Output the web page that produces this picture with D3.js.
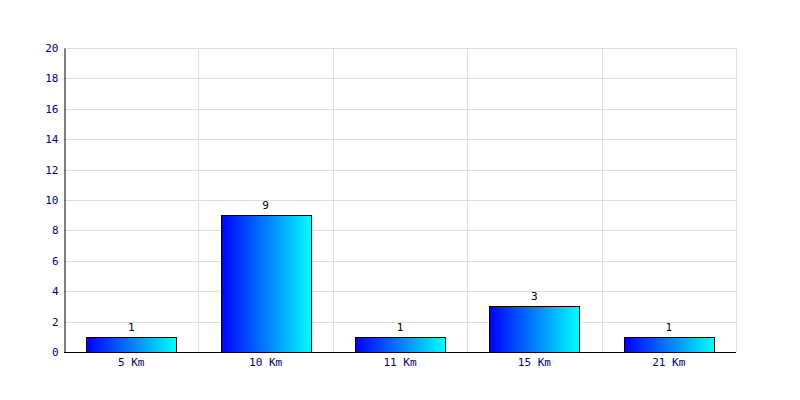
<!DOCTYPE html>
<html><head><meta charset="utf-8">
<script src="https://cdn.jsdelivr.net/npm/d3@7"></script>
<style>body{margin:0;background:#fff}svg{display:block}</style>
</head><body>
<script>
const categories = ["5 Km","10 Km","11 Km","15 Km","21 Km"];
const values = [1,9,1,3,1];
const yTicks = [0,2,4,6,8,10,12,14,16,18,20];

const W=800,H=400, m={l:64,r:64,t:48,b:48};
const svg=d3.select("body").append("svg").attr("width",W).attr("height",H);
const defs=svg.append("defs");
const g=defs.append("linearGradient").attr("id","bg").attr("x1","0").attr("x2","1").attr("y1","0").attr("y2","0");
g.append("stop").attr("offset","0").attr("stop-color","#0000ff");
g.append("stop").attr("offset","1").attr("stop-color","#00ffff");

const x=d3.scaleBand().domain(categories).range([m.l,W-m.r]).paddingInner(0).paddingOuter(0);
const y=d3.scaleLinear().domain([0,20]).range([H-m.b,m.t]);
const font="'DejaVu Sans Mono', monospace";

// horizontal grid
svg.append("g").selectAll("line").data(yTicks.filter(d=>d>0)).join("line")
 .attr("x1",m.l).attr("x2",W-m.r).attr("y1",d=>Math.round(y(d))+0.5).attr("y2",d=>Math.round(y(d))+0.5)
 .attr("stroke","#dddddd");
// vertical grid at band boundaries
svg.append("g").selectAll("line").data(categories).join("line")
 .attr("x1",d=>Math.round(x(d)+x.bandwidth())+0.5).attr("x2",d=>Math.round(x(d)+x.bandwidth())+0.5)
 .attr("y1",m.t).attr("y2",H-m.b).attr("stroke","#dddddd");

// bars
const bw=x.bandwidth()*0.67;
svg.append("g").selectAll("rect").data(values).join("rect")
 .attr("x",(d,i)=>Math.round(x(categories[i])+(x.bandwidth()-bw)/2)+0.5)
 .attr("y",d=>Math.round(y(d))+0.5)
 .attr("width",Math.round(bw))
 .attr("height",d=>Math.round(y(0))-Math.round(y(d)))
 .attr("fill","url(#bg)").attr("stroke","#000").attr("stroke-width",1);

// value labels
svg.append("g").selectAll("text").data(values).join("text")
 .attr("x",(d,i)=>x(categories[i])+x.bandwidth()/2)
 .attr("y",d=>y(d)-6)
 .attr("text-anchor","middle").attr("font-family",font).attr("font-size",11).attr("fill","#000")
 .text(d=>d);

// y axis
const ya=svg.append("g").attr("transform",`translate(${m.l+0.5},0)`)
 .call(d3.axisLeft(y).tickValues(yTicks).tickSize(0).tickPadding(6));
ya.select(".domain").attr("stroke","#000");
ya.selectAll("text").attr("font-family",font).attr("font-size",11).attr("fill","#000080");

// x axis
const xa=svg.append("g").attr("transform",`translate(0,${H-m.b+0.5})`)
 .call(d3.axisBottom(x).tickSize(0).tickPadding(6));
xa.select(".domain").attr("stroke","#000").attr("d",`M${m.l},0H${W-m.r}`);
xa.selectAll("text").attr("font-family",font).attr("font-size",11).attr("fill","#000080");
</script>
</body></html>
